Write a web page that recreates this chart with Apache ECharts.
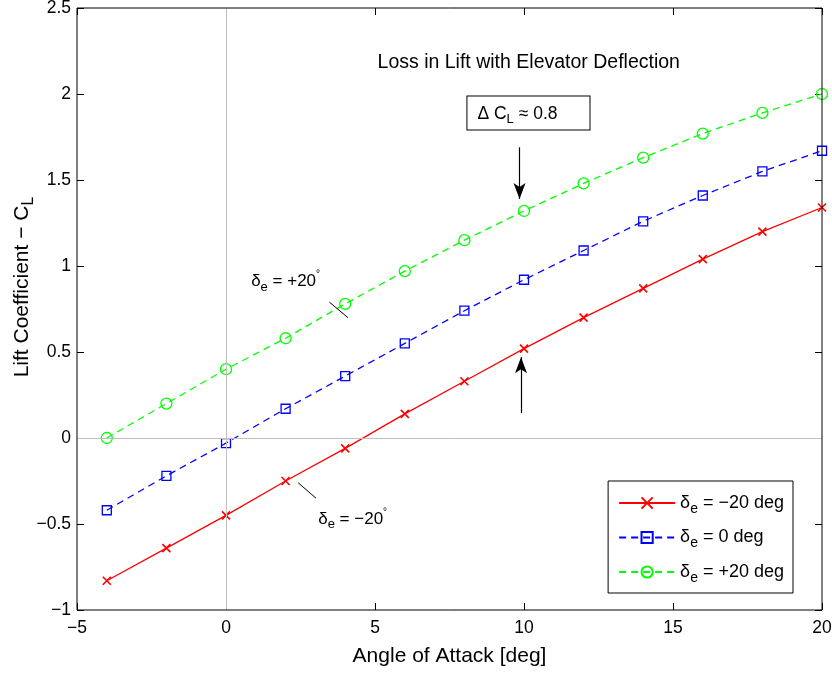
<!DOCTYPE html>
<html>
<head>
<meta charset="utf-8">
<script src="https://cdn.jsdelivr.net/npm/echarts@6/dist/echarts.min.js"></script>
<style>
html, body { margin: 0; padding: 0; background: #fff; }
#chart-area { width: 832px; height: 678px; }
</style>
</head>
<body>
<div id="chart-area"></div>
<script>
// angle of attack [deg]
var alpha = [-4, -2, 0, 2, 4, 6, 8, 10, 12, 14, 16, 18, 20];
// lift coefficient for each elevator deflection
var clMinus20 = [-0.83, -0.64, -0.45, -0.25, -0.06, 0.14, 0.33, 0.52, 0.70, 0.87, 1.04, 1.20, 1.34];
var clZero = [-0.42, -0.22, -0.03, 0.17, 0.36, 0.55, 0.74, 0.92, 1.09, 1.26, 1.41, 1.55, 1.67];
var clPlus20 = [0.00, 0.20, 0.40, 0.58, 0.78, 0.97, 1.15, 1.32, 1.48, 1.63, 1.77, 1.89, 2.00];
var seriesNames = ['dm20', 'd0', 'dp20'];
var legendText = {
    dm20: '{d|δ}{s|e}{t| = −20 deg}',
    d0: '{d|δ}{s|e}{t| = 0 deg}',
    dp20: '{d|δ}{s|e}{t| = +20 deg}'
};

var FONT = 'Liberation Sans';

function pairs(ys){
    return alpha.map(function(a, i){ return [a, ys[i]]; });
}
function minus(v){
    return String(v).replace('-', '−');
}

// 델타 라벨용 rich 스타일 (아래첨자, 위첨자)
function richSub(size){
    return {
        d: {fontSize: size, fontFamily: FONT, color: '#000'},
        s: {fontSize: size - 4, fontFamily: FONT, color: '#000', padding: [12, 0, 0, 0]},
        t: {fontSize: size, fontFamily: FONT, color: '#000'},
        o: {fontSize: 10, fontFamily: FONT, color: '#000', padding: [0, 0, 14, 0]}
    };
}

var chart = echarts.init(document.getElementById('chart-area'));

var axisTick = {inside: true, length: 7, lineStyle: {color: '#000'}};

var option = {
    animation: false,
    backgroundColor: '#fff',
    grid: {left: 77, right: 10, top: 8, bottom: 68, show: true, borderColor: '#000', borderWidth: 1, z: 10,
        containLabel: false, outerBoundsMode: 'none'},
    xAxis: [
        {
            type: 'value', min: -5, max: 20, interval: 5,
            name: 'Angle of Attack [deg]', nameLocation: 'middle', nameGap: 36, nameMoveOverlap: false,
            nameTextStyle: {fontFamily: FONT, fontSize: 21, color: '#000'},
            axisLine: {show: false, onZero: false},
            axisTick: axisTick,
            axisLabel: {fontFamily: FONT, fontSize: 17.5, color: '#000', margin: 9, formatter: minus},
            splitLine: {show: false}
        },
        {
            type: 'value', min: -5, max: 20, interval: 5, position: 'top',
            axisLine: {show: false, onZero: false},
            axisTick: axisTick,
            axisLabel: {show: false}, splitLine: {show: false}
        }
    ],
    yAxis: [
        {
            type: 'value', min: -1, max: 2.5, interval: 0.5,
            name: '{t|Lift Coefficient − C}{s|L}', nameLocation: 'middle', nameGap: 40, nameMoveOverlap: false,
            nameTextStyle: {fontFamily: FONT, fontSize: 21, color: '#000', padding: [0, 0, 0, 44], rich: {
                t: {fontFamily: FONT, fontSize: 21, color: '#000'},
                s: {fontFamily: FONT, fontSize: 16, color: '#000', padding: [14, 0, 0, 0]}
            }},
            axisLine: {show: false, onZero: false},
            axisTick: axisTick,
            axisLabel: {fontFamily: FONT, fontSize: 17.5, color: '#000', margin: 6, formatter: minus},
            splitLine: {show: false}
        },
        {
            type: 'value', min: -1, max: 2.5, interval: 0.5, position: 'right',
            axisLine: {show: false, onZero: false},
            axisTick: axisTick,
            axisLabel: {show: false}, splitLine: {show: false}
        }
    ],
    legend: {
        orient: 'vertical', right: 39, top: 481,
        data: seriesNames,
        itemWidth: 56, itemHeight: 14, itemGap: 12.5,
        padding: [13, 9, 8, 10],
        borderColor: '#000', borderWidth: 1, backgroundColor: '#fff',
        formatter: function(name){ return legendText[name]; },
        textStyle: {rich: richSub(18), fontFamily: FONT, fontSize: 18, color: '#000'}
    },
    series: [
        {
            name: 'dm20', type: 'line', data: pairs(clMinus20),
            symbol: 'path://M0,0L10,10M10,0L0,10', symbolSize: 8,
            lineStyle: {color: '#ff0000', width: 1.3, type: 'solid'},
            itemStyle: {color: 'none', borderColor: '#ff0000', borderWidth: 1.6},
            z: 3,
            markLine: {
                silent: true, symbol: 'none', animation: false,
                label: {show: false},
                data: [
                    [{coord: [0, -1], lineStyle: {color: '#c0c0c0', width: 1, type: 'solid'}}, {coord: [0, 2.5]}],
                    [{coord: [-5, 0], lineStyle: {color: '#c0c0c0', width: 1, type: 'solid'}}, {coord: [20, 0]}],
                    [{coord: [3.47, 0.79], lineStyle: {color: '#000', width: 1, type: 'solid'}}, {coord: [4.09, 0.70]}],
                    [{coord: [2.42, -0.26], lineStyle: {color: '#000', width: 1, type: 'solid'}}, {coord: [3.02, -0.35]}]
                ]
            }
        },
        {
            name: 'd0', type: 'line', data: pairs(clZero),
            symbol: 'rect', symbolSize: 9,
            lineStyle: {color: '#0000ff', width: 1.3, type: [7, 5]},
            itemStyle: {color: 'none', borderColor: '#0000ff', borderWidth: 1.3},
            z: 3
        },
        {
            name: 'dp20', type: 'line', data: pairs(clPlus20),
            symbol: 'circle', symbolSize: 11,
            lineStyle: {color: '#00ff00', width: 1.3, type: [7, 5]},
            itemStyle: {color: 'none', borderColor: '#00ff00', borderWidth: 1.3},
            z: 3,
            markLine: {
                silent: true, animation: false,
                symbol: ['none', 'arrow'], symbolSize: [9, 16],
                label: {show: false},
                lineStyle: {color: '#000', width: 1.2, type: 'solid'},
                data: [
                    [{coord: [9.85, 1.69]}, {coord: [9.85, 1.39]}],
                    [{coord: [9.9, 0.145]}, {coord: [9.9, 0.47]}]
                ]
            },
            markPoint: {
                silent: true, symbol: 'circle', symbolSize: 0, animation: false,
                data: [
                    {coord: [10.16, 2.18], label: {show: true, formatter: 'Loss in Lift with Elevator Deflection',
                        fontFamily: FONT, fontSize: 19.5, color: '#000'}},
                    {coord: [10.15, 1.89], label: {show: true, formatter: '{t|Δ C}{s|L}{t| ≈ 0.8}',
                        borderColor: '#000', borderWidth: 1, backgroundColor: '#fff',
                        padding: [5, 32, 3, 10],
                        rich: {
                            t: {fontFamily: FONT, fontSize: 17.5, color: '#000'},
                            s: {fontFamily: FONT, fontSize: 13, color: '#000', padding: [12, 0, 0, 0]}
                        }}},
                    {coord: [2.0, 0.91], label: {show: true, formatter: '{d|δ}{s|e}{t| = +20}{o|°}', rich: richSub(17)}},
                    {coord: [4.25, -0.47], label: {show: true, formatter: '{d|δ}{s|e}{t| = −20}{o|°}', rich: richSub(17)}}
                ]
            }
        }
    ]
};

chart.setOption(option);
</script>
</body>
</html>
